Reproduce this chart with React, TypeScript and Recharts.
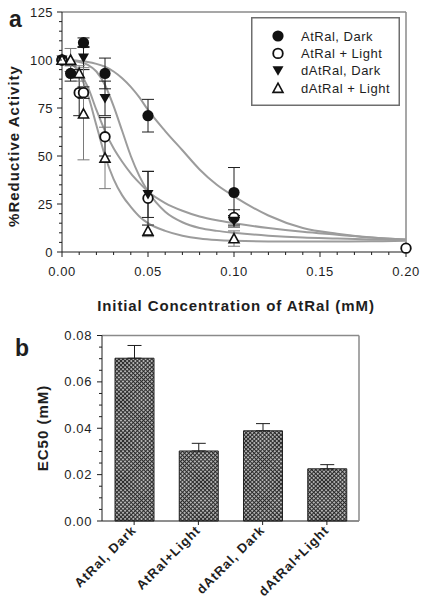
import React from 'react'
import {
  ComposedChart,
  Line,
  Scatter,
  XAxis,
  YAxis,
  ErrorBar,
  ReferenceLine,
  Legend,
  BarChart,
  Bar,
} from 'recharts'

// ---- panel a: measured points (concentration in mM, % reductive activity)
const atralDarkX = [0, 0.005, 0.0125, 0.025, 0.05, 0.1]
const atralDarkY = [100, 93, 109, 93, 71, 31]
const atralDarkErr = [0, 4, 2.5, 8, 8.5, 13]

const atralLightX = [0, 0.01, 0.0125, 0.025, 0.05, 0.1, 0.2]
const atralLightY = [100, 83, 83, 60, 28, 18, 2]
const atralLightErr = [0, 12, 3, 10, 14, 4, 0]

const datralDarkX = [0, 0.0125, 0.025, 0.05, 0.1]
const datralDarkY = [100, 101, 80, 30, 16]
const datralDarkErr = [0, 6, 9, 12, 3]

const datralLightX = [0, 0.005, 0.01, 0.0125, 0.025, 0.05, 0.1]
const datralLightY = [100, 100, 93, 72, 49, 11, 7]
const datralLightErr = [0, 6, 4, 24, 16, 3, 4]

// fitted curves
const curveX = [0, 0.005, 0.01, 0.015, 0.02, 0.025, 0.03, 0.035, 0.04, 0.045, 0.05, 0.06, 0.07, 0.08, 0.09, 0.1, 0.12, 0.14, 0.16, 0.18, 0.2]
const fitAtralDark = [100, 100, 99.5, 99, 98, 96.5, 94, 90.5, 86, 80.5, 74, 63, 53, 43, 35, 29, 19, 12.5, 9.5, 7.5, 6.5]
const fitAtralLight = [100, 98.5, 94, 86, 74, 63, 54, 47, 41, 36, 31.5, 25.5, 21.5, 18.5, 16.5, 15, 12.5, 10.5, 9, 7.5, 6.5]
const fitDatralDark = [100, 99.8, 99, 97.5, 94, 87, 76, 63, 50, 39.5, 31.5, 21, 15.5, 12.5, 11, 10, 8.5, 7.5, 7, 6.5, 6.3]
const fitDatralLight = [100, 98.5, 93, 82, 66, 50, 38, 29.5, 23.5, 18.5, 15, 11, 8.5, 7, 6.2, 5.8, 5.5, 5.5, 5.5, 5.6, 5.8]

const seriesNames = ['AtRal, Dark', 'AtRal + Light', 'dAtRal, Dark', 'dAtRal + Light']

// ---- panel b: EC50 values
const ec50Names = ['AtRal, Dark', 'AtRal+Light', 'dAtRal, Dark', 'dAtRal+Light']
const ec50Values = [0.0702, 0.0302, 0.0389, 0.0225]
const ec50Err = [0.0055, 0.0033, 0.0031, 0.0018]

// ticks
const xMajorA = [0, 0.05, 0.1, 0.15, 0.2]
const yMajorA = [0, 25, 50, 75, 100, 125]
const yMajorB = [0, 0.02, 0.04, 0.06, 0.08]

const steps = (max: number, step: number) => {
  const out: number[] = []
  for (let i = 0; i * step <= max + 1e-9; i++) out.push(Math.round(i * step * 1e5) / 1e5)
  return out
}
const xTicksA = steps(0.2, 0.01)
const yTicksA = steps(125, 5)
const yTicksB = steps(0.08, 0.005)

const isMajor = (list: number[], v: number) => list.some((m) => Math.abs(m - v) < 1e-9)

const zip = (xs: number[], ys: number[], es?: number[]) =>
  xs.map((x, i) => ({ x, y: ys[i], e: es ? es[i] : 0 }))

const pointsAtralDark = zip(atralDarkX, atralDarkY, atralDarkErr)
const pointsAtralLight = zip(atralLightX, atralLightY, atralLightErr)
const pointsDatralDark = zip(datralDarkX, datralDarkY, datralDarkErr)
const pointsDatralLight = zip(datralLightX, datralLightY, datralLightErr)

const curves = [fitAtralDark, fitAtralLight, fitDatralDark, fitDatralLight].map((ys) => zip(curveX, ys))

const barData = ec50Names.map((name, i) => ({ name, v: ec50Values[i], err: [0, ec50Err[i]] }))

const FONT = "'Liberation Sans', Arial, sans-serif"
const INK = '#1e1e1e'
const FRAME = '#8a8a8a'
const CURVE = '#9c9c9c'

const markerKinds = ['filled', 'open', 'down', 'up']

function marker(kind: string, cx: number, cy: number) {
  if (cx == null || cy == null) return <g />
  switch (kind) {
    case 'filled':
      return <circle cx={cx} cy={cy} r={5.6} fill="#111" />
    case 'open':
      return <circle cx={cx} cy={cy} r={4.8} fill="#fff" stroke="#111" strokeWidth={1.8} />
    case 'down':
      return <path d={`M${cx - 5.5},${cy - 4.5} L${cx + 5.5},${cy - 4.5} L${cx},${cy + 5} Z`} fill="#111" />
    default:
      return (
        <path
          d={`M${cx},${cy - 5} L${cx + 5},${cy + 4.2} L${cx - 5},${cy + 4.2} Z`}
          fill="#fff"
          stroke="#111"
          strokeWidth={1.6}
          strokeLinejoin="miter"
        />
      )
  }
}

function BottomTickA(props: any) {
  const { x, y, payload } = props
  const v = payload.value
  const major = isMajor(xMajorA, v)
  return (
    <g>
      <line x1={x} x2={x} y1={y} y2={y + (major ? 5 : 3)} stroke={INK} />
      {major && (
        <text x={x} y={y + 24} textAnchor="middle" fontSize={13} fill={INK} fontFamily={FONT} letterSpacing={0.6}>
          {v.toFixed(2)}
        </text>
      )}
    </g>
  )
}

function LeftTickA(props: any) {
  const { x, y, payload } = props
  const v = payload.value
  const major = isMajor(yMajorA, v)
  return (
    <g>
      <line x1={x - (major ? 5 : 3)} x2={x} y1={y} y2={y} stroke={INK} />
      {major && (
        <text x={x - 9} y={y} dy="0.35em" textAnchor="end" fontSize={13} fill={INK} fontFamily={FONT} letterSpacing={0.4}>
          {v}
        </text>
      )}
    </g>
  )
}

function LeftTickB(props: any) {
  const { x, y, payload } = props
  const v = payload.value
  const major = isMajor(yMajorB, v)
  return (
    <g>
      <line x1={x - (major ? 5 : 3)} x2={x} y1={y} y2={y} stroke={INK} />
      {major && (
        <text x={x - 10} y={y} dy="0.35em" textAnchor="end" fontSize={13} fill={INK} fontFamily={FONT} letterSpacing={0.6}>
          {v.toFixed(2)}
        </text>
      )}
    </g>
  )
}

function BottomTickB(props: any) {
  const { x, y, payload } = props
  const tx = x + 3
  const ty = y + 10
  return (
    <g>
      <line x1={x} x2={x} y1={y} y2={y + 4} stroke={INK} />
      <text
        x={tx}
        y={ty}
        textAnchor="end"
        transform={`rotate(-45 ${tx} ${ty})`}
        fontSize={13}
        fontWeight="bold"
        fill={INK}
        fontFamily={FONT}
        letterSpacing={1}
      >
        {payload.value}
      </text>
    </g>
  )
}

function LegendBox(props: any) {
  const items = (props.payload || [])
    .filter((p: any) => p.type !== 'none' && seriesNames.includes(p.value))
    .sort((a: any, b: any) => seriesNames.indexOf(a.value) - seriesNames.indexOf(b.value))
  return (
    <svg width={149} height={89} style={{ display: 'block' }}>
      <rect x={0.75} y={0.75} width={147.5} height={87.5} fill="#fff" stroke="#6e6e6e" strokeWidth={1.5} />
      {items.map((item: any, i: number) => {
        const cy = 19 + i * 17.4
        const kind = markerKinds[seriesNames.indexOf(item.value)] || 'filled'
        return (
          <g key={item.value}>
            {marker(kind, 27, cy)}
            <text x={50} y={cy + 4.6} fontSize={13} fill={INK} fontFamily={FONT} letterSpacing={0.5}>
              {item.value}
            </text>
          </g>
        )
      })}
    </svg>
  )
}

export default function App() {
  const scatterSets = [pointsAtralDark, pointsAtralLight, pointsDatralDark, pointsDatralLight]
  const errColors = [INK, INK, INK, '#7a7a7a']

  return (
    <div style={{ position: 'absolute', left: 0, top: 0, width: 425, height: 599, background: '#fff', fontFamily: FONT }}>
      <svg width={0} height={0} style={{ position: 'absolute' }}>
        <defs>
          <pattern id="crosshatch" width={2.9} height={2.9} patternUnits="userSpaceOnUse" patternTransform="rotate(45)">
            <rect width={2.9} height={2.9} fill="#fff" />
            <path d="M0,1.45 H2.9 M1.45,0 V2.9" stroke="#2a2a2a" strokeWidth={1.25} />
          </pattern>
        </defs>
      </svg>

      <div style={{ position: 'absolute', left: 0, top: 0 }}>
        <ComposedChart width={425} height={320} margin={{ top: 12, right: 19, bottom: 67, left: 61 }}>
          <XAxis
            dataKey="x"
            type="number"
            domain={[0, 0.2]}
            ticks={xTicksA}
            interval={0}
            height={1}
            tickSize={0}
            tickMargin={0}
            tickLine={false}
            tick={<BottomTickA />}
            axisLine={{ stroke: INK, strokeWidth: 1 }}
          />
          <YAxis
            type="number"
            domain={[0, 125]}
            ticks={yTicksA}
            interval={0}
            width={1}
            tickSize={0}
            tickMargin={0}
            tickLine={false}
            tick={<LeftTickA />}
            axisLine={{ stroke: INK, strokeWidth: 1 }}
          />
          <ReferenceLine y={125} stroke={FRAME} strokeWidth={1.5} />
          <ReferenceLine x={0.2} stroke={FRAME} strokeWidth={1.5} />
          {curves.map((c, i) => (
            <Line
              key={'fit' + i}
              data={c}
              dataKey="y"
              type="monotone"
              stroke={CURVE}
              strokeWidth={2}
              dot={false}
              activeDot={false}
              legendType="none"
              isAnimationActive={false}
            />
          ))}
          {scatterSets.map((pts, i) => (
            <Scatter
              key={seriesNames[i]}
              name={seriesNames[i]}
              data={pts}
              dataKey="y"
              isAnimationActive={false}
              shape={(p: any) => marker(markerKinds[i], p.cx, p.cy)}
            >
              <ErrorBar dataKey="e" direction="y" width={6} stroke={errColors[i]} strokeWidth={1} />
            </Scatter>
          ))}
          <Legend
            layout="vertical"
            align="center"
            verticalAlign="middle"
            wrapperStyle={{ left: 251, top: 17, width: 149, height: 89 }}
            content={(p: any) => <LegendBox {...p} />}
          />
        </ComposedChart>
      </div>

      <div style={{ position: 'absolute', left: 0, top: 320 }}>
        <BarChart width={425} height={279} data={barData} margin={{ top: 15.5, right: 65, bottom: 77, left: 101 }}>
          <XAxis
            dataKey="name"
            height={1}
            interval={0}
            tickSize={0}
            tickMargin={0}
            tickLine={false}
            tick={<BottomTickB />}
            axisLine={{ stroke: INK, strokeWidth: 1 }}
          />
          <YAxis
            type="number"
            domain={[0, 0.08]}
            ticks={yTicksB}
            interval={0}
            width={1}
            tickSize={0}
            tickMargin={0}
            tickLine={false}
            tick={<LeftTickB />}
            axisLine={{ stroke: INK, strokeWidth: 1 }}
          />
          <YAxis
            yAxisId="right"
            orientation="right"
            type="number"
            domain={[0, 0.08]}
            width={1}
            tick={false}
            tickLine={false}
            axisLine={{ stroke: FRAME, strokeWidth: 1.5 }}
          />
          <ReferenceLine y={0.08} stroke={FRAME} strokeWidth={1.5} />
          <Bar dataKey="v" barSize={39} fill="url(#crosshatch)" stroke="#222" strokeWidth={1} isAnimationActive={false}>
            <ErrorBar dataKey="err" direction="y" width={7} stroke={INK} strokeWidth={1} />
          </Bar>
        </BarChart>
      </div>

      <svg
        width={425}
        height={599}
        style={{ position: 'absolute', left: 0, top: 0, pointerEvents: 'none' }}
        fontFamily={FONT}
        fill={INK}
      >
        <text x={9} y={27} fontSize={23} fontWeight="bold">a</text>
        <text x={15} y={356} fontSize={23} fontWeight="bold">b</text>
        <text
          x={19}
          y={146}
          transform="rotate(-90 19 146)"
          textAnchor="middle"
          fontSize={15}
          fontWeight="bold"
          letterSpacing={1}
        >
          %Reductive Activity
        </text>
        <text x={236} y={311} textAnchor="middle" fontSize={15} fontWeight="bold" letterSpacing={0.9}>
          Initial Concentration of AtRal (mM)
        </text>
        <text
          x={48}
          y={428}
          transform="rotate(-90 48 428)"
          textAnchor="middle"
          fontSize={15}
          fontWeight="bold"
          letterSpacing={1}
        >
          EC50 (mM)
        </text>
      </svg>
    </div>
  )
}
